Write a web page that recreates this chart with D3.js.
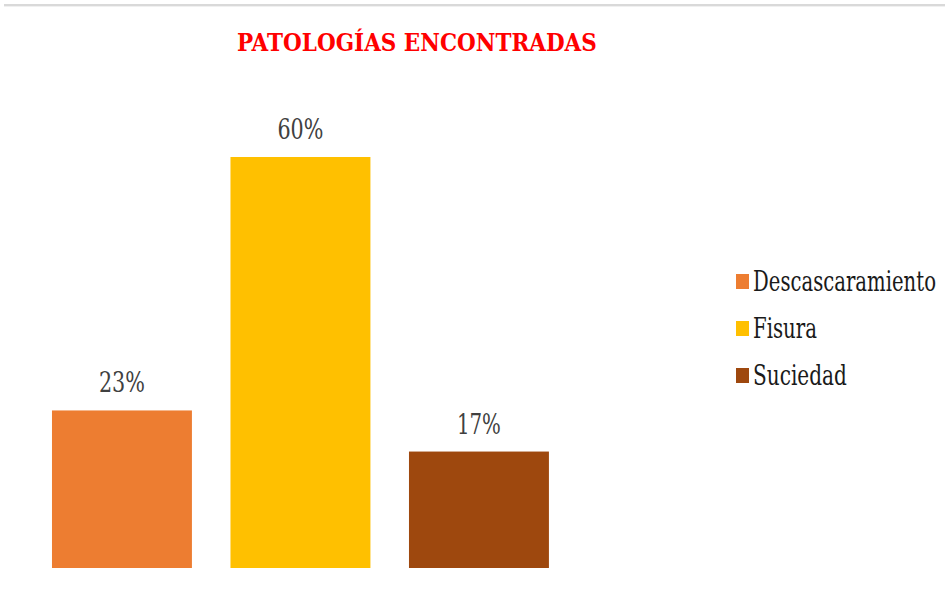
<!DOCTYPE html>
<html>
<head>
<meta charset="utf-8">
<script src="https://cdn.jsdelivr.net/npm/d3@7"></script>
<style>
  html, body { margin: 0; padding: 0; background: #ffffff; }
  svg { display: block; }
  svg text { font-family: "DejaVu Serif", serif; }
</style>
</head>
<body>
<div id="chart"></div>
<script>
// Pathology shares found in the survey
const categories = ["Descascaramiento", "Fisura", "Suciedad"];
const values = [23, 60, 17];
const valueLabels = ["23%", "60%", "17%"];
const colors = ["#ED7D31", "#FFC000", "#9E480E"];
const title = "PATOLOGÍAS ENCONTRADAS";

const W = 945, H = 595;
const svg = d3.select("#chart").append("svg")
  .attr("width", W).attr("height", H);

// squeeze a text horizontally to a given width, anchored at (ax, ay)
function fitWidth(sel, width, ax, ay, anchor) {
  sel.each(function () {
    const node = this;
    const natural = node.getComputedTextLength();
    const s = width / natural;
    const left = anchor === "middle" ? ax - width / 2 : ax;
    d3.select(node)
      .attr("text-anchor", "start")
      .attr("x", 0).attr("y", 0)
      .attr("transform", `translate(${left},${ay}) scale(${s},1)`);
  });
}

// thin grey frame edge along the top
svg.append("rect")
  .attr("x", 4).attr("y", 4).attr("width", W - 4).attr("height", 2.4)
  .attr("fill", "#d9d9d9");

// title
svg.append("text")
  .attr("font-weight", "bold")
  .attr("font-size", 25)
  .attr("fill", "#FF0000")
  .text(title)
  .call(fitWidth, 360, 237, 51, "start");

// scales
const x = d3.scaleBand()
  .domain(categories)
  .range([32.7, 568.2])
  .paddingInner(0.216)
  .paddingOuter(0.108);

const y = d3.scaleLinear()
  .domain([0, 70])
  .range([568, 88.5]);

const g = svg.append("g");

g.selectAll("rect.bar")
  .data(categories)
  .join("rect")
  .attr("class", "bar")
  .attr("x", d => x(d))
  .attr("width", x.bandwidth())
  .attr("y", (d, i) => y(values[i]))
  .attr("height", (d, i) => y(0) - y(values[i]))
  .attr("fill", (d, i) => colors[i]);

// value labels above bars
const labelWidths = [46, 46, 44];
categories.forEach((c, i) => {
  g.append("text")
    .attr("class", "val")
    .attr("font-size", 27)
    .attr("fill", "#404040")
    .text(valueLabels[i])
    .call(fitWidth, labelWidths[i], x(c) + x.bandwidth() / 2, y(values[i]) - 18, "middle");
});

// legend
const legendWidths = [183, 64, 94];
const legend = svg.append("g");
categories.forEach((c, i) => {
  const by = 291 + i * 47;
  legend.append("rect")
    .attr("x", 736).attr("y", by - 17)
    .attr("width", 13).attr("height", 15)
    .attr("fill", colors[i]);
  legend.append("text")
    .attr("font-size", 27)
    .attr("fill", "#1a1a1a")
    .text(c)
    .call(fitWidth, legendWidths[i], 753, by, "start");
});
</script>
</body>
</html>
